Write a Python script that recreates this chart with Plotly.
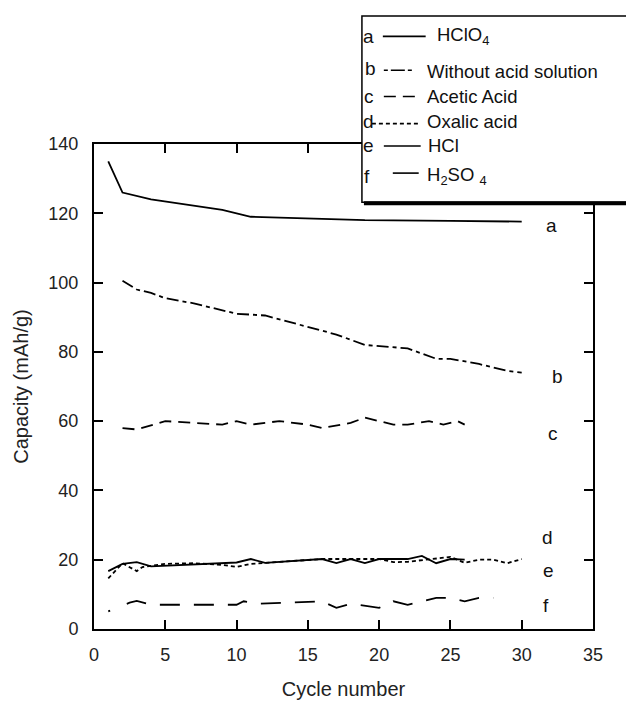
import plotly.graph_objects as go

# ---------------- data ----------------
a_x = [1, 2, 4, 9, 11, 19, 25, 30]
a_y = [135, 126, 124, 121, 119, 118, 117.8, 117.6]

b_x = [2, 3, 4, 5, 7, 10, 12, 17, 18, 19, 22, 23, 24, 25, 27, 29, 30]
b_y = [100.5, 98, 97, 95.5, 94, 91, 90.5, 85, 83.5, 82, 81, 79.5, 78, 78, 76.5, 74.5, 74]

c_x = [2, 3, 5, 7, 9, 10, 11, 13, 15, 16, 18, 19, 20, 21, 22, 23.5, 24.5, 25.5, 26]
c_y = [58, 57.6, 60, 59.5, 59, 60, 59, 60, 59, 58, 59.5, 61, 60, 59, 59, 60, 59, 60, 59]

d_x = [1, 1.8, 2, 3, 3.4, 5, 7, 9, 10, 11, 16, 18, 20, 21, 22, 25, 26, 27, 28, 29, 30]
d_y = [14.6, 18.3, 19, 16.7, 17.9, 18.8, 19, 18.5, 17.9, 18.8, 20.2, 20.2, 20.2, 19.3, 19.4, 20.8, 19.1, 20, 20, 19, 20.2]

e_x = [1, 2, 3, 4, 10, 11, 12, 16, 17, 18, 19, 20, 22, 23, 24, 25, 26]
e_y = [16.7, 18.8, 19.3, 18.1, 19.2, 20.2, 19.1, 20.2, 19, 20.2, 19, 20.2, 20.2, 21.1, 19, 20.2, 20]

f_x = [1, 2.5, 3, 4, 10, 10.5, 11.6, 16, 17, 18, 20, 21, 22, 23, 24, 25, 26, 27, 28]
f_y = [5.1, 7.6, 8.1, 7, 7, 8, 7.3, 8, 6.1, 7.3, 6.1, 8, 7, 8, 9, 9, 8, 9, 9]

series_names = ["HClO4", "Without acid solution", "Acetic Acid", "Oxalic acid", "HCl", "H2SO4"]
series_letters = ["a", "b", "c", "d", "e", "f"]
legend_texts = ["HClO<sub>4</sub>", "Without acid solution", "Acetic Acid", "Oxalic acid", "HCl",
                "H<sub>2</sub>SO <sub>4</sub>"]
label_y = [116.5, 73, 56.3, 26.3, 17, 6.7]
label_x = [32.1, 32.5, 32.2, 31.8, 31.9, 31.7]

x_ticks = [0, 5, 10, 15, 20, 25, 30, 35]
y_ticks = [0, 20, 40, 60, 80, 100, 120, 140]

# ---------------- styles ----------------
f_dash = "2px,18px," + ",".join(["20px,14px"] * 30)
dashes = ["solid", "12px,4px,4px,4px", "12px,7px", "4px,3px", "solid", f_dash]
legend_dashes = ["solid", "4px,3px,14px,3px", "12px,7px", "4px,3px", "solid", "solid"]
FONT = "Arial, Liberation Sans, sans-serif"

OFF = 8                       # page body margin
PAGE_W, PAGE_H = 634, 709
L, R, T, B = 92, 593, 144, 644  # plot area in page pixels


def px(x):
    return (x - L) / (R - L)


def py(y):
    return (B - y) / (B - T)


fig = go.Figure()
xs = [a_x, b_x, c_x, d_x, e_x, f_x]
ys = [a_y, b_y, c_y, d_y, e_y, f_y]
for name, x, y, dsh in zip(series_names, xs, ys, dashes):
    fig.add_trace(go.Scatter(x=x, y=y, mode="lines", name=name, showlegend=False,
                             line=dict(color="black", width=1.8, dash=dsh)))

annotations = []
for lt, lx, ly in zip(series_letters, label_x, label_y):
    annotations.append(dict(x=lx, y=ly, xref="x", yref="y", text=lt, showarrow=False,
                            xanchor="center", yanchor="middle",
                            font=dict(size=19, color="#111", family=FONT)))

shapes = []
# legend box
shapes.append(dict(type="rect", xref="paper", yref="paper", x0=px(361), x1=px(700),
                   y0=py(204), y1=py(12), fillcolor="white", line=dict(color="black", width=1.5),
                   layer="above"))
shapes.append(dict(type="line", xref="paper", yref="paper", x0=px(363), x1=px(700),
                   y0=py(205), y1=py(205), line=dict(color="black", width=4), layer="above"))

row_y = [33, 66, 95, 121, 146, 177]
line_x0 = [382, 383, 383, 371, 383, 392]
line_x1 = [425, 412, 418, 420, 420, 418]
text_x = [434, 424, 424, 424, 425, 424]
letter_x = [368, 370, 368, 368, 368, 366]
row_line_y = [33, 68, 95, 123, 146, 174]
text_dy = [0, 3, 0, 0, 0, 0]
for i in range(6):
    shapes.append(dict(type="line", xref="paper", yref="paper", x0=px(line_x0[i]), x1=px(line_x1[i]),
                       y0=py(row_line_y[i]), y1=py(row_line_y[i]),
                       line=dict(color="black", width=1.6, dash=legend_dashes[i]), layer="above"))
    annotations.append(dict(x=px(letter_x[i]), y=py(row_y[i]), xref="paper", yref="paper",
                            text=series_letters[i], showarrow=False,
                            xanchor="center", yanchor="middle",
                            font=dict(size=19, color="#111", family=FONT)))
    annotations.append(dict(x=px(text_x[i]), y=py(row_y[i] + text_dy[i]),
                            xref="paper", yref="paper",
                            text=legend_texts[i], showarrow=False,
                            xanchor="left", yanchor="middle",
                            font=dict(size=18.5, color="#111", family=FONT)))

axis_common = dict(showline=True, linecolor="black", linewidth=2, mirror="ticks",
                   ticks="inside", ticklen=9, tickwidth=2, tickcolor="black",
                   showgrid=False, zeroline=False,
                   tickfont=dict(size=18, color="#222", family=FONT))

fig.update_layout(
    width=PAGE_W - OFF, height=PAGE_H - OFF,
    margin=dict(l=L - OFF, r=PAGE_W - R, t=T - OFF, b=PAGE_H - B),
    paper_bgcolor="white", plot_bgcolor="white",
    xaxis=dict(range=[0, 35], tickvals=x_ticks, ticktext=[str(v) for v in x_ticks],
               ticklabelstandoff=8,
               title=dict(text="Cycle number", font=dict(size=20, color="#222", family=FONT), standoff=18),
               **axis_common),
    yaxis=dict(range=[0, 140], tickvals=y_ticks, ticktext=[str(v) for v in y_ticks],
               ticklabelstandoff=10,
               title=dict(text="Capacity (mAh/g)", font=dict(size=20, color="#222", family=FONT), standoff=14),
               **axis_common),
    annotations=annotations,
    shapes=shapes,
)

fig.write_html("out.html")
